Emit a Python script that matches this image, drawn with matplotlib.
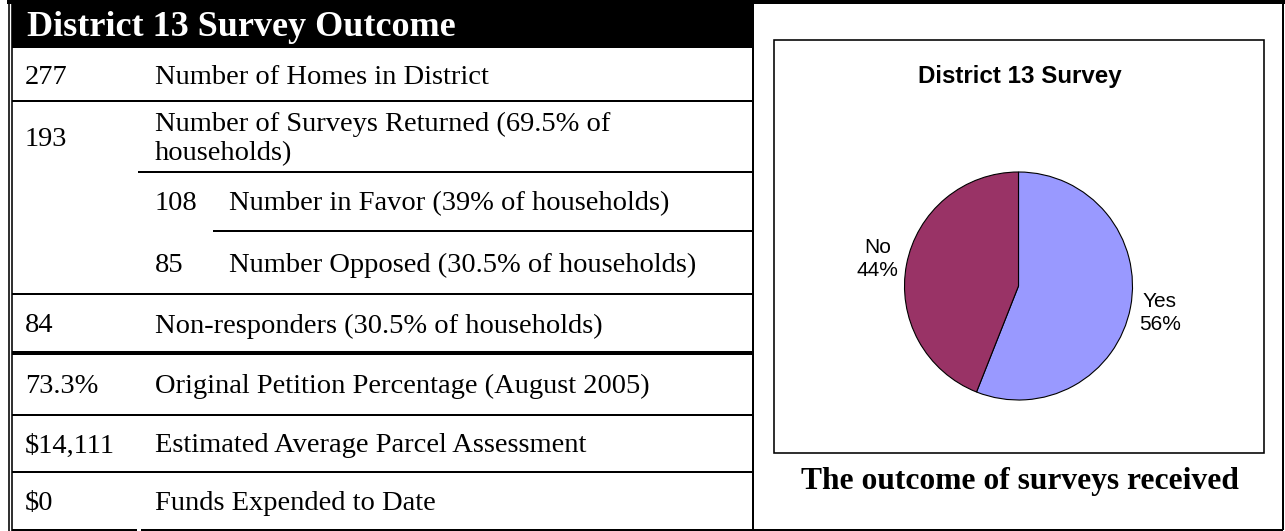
import matplotlib
matplotlib.use('Agg')
import matplotlib.pyplot as plt
from matplotlib.patches import Rectangle

# table data
title = 'District 13 Survey Outcome'
values = ['277', '193', '108', '85', '84', '73.3%', '$14,111', '$0']
labels = ['Number of Homes in District',
          'Number of Surveys Returned (69.5% of\nhouseholds)',
          'Number in Favor (39% of households)',
          'Number Opposed (30.5% of households)',
          'Non-responders (30.5% of households)',
          'Original Petition Percentage (August 2005)',
          'Estimated Average Parcel Assessment',
          'Funds Expended to Date']
sub_row = [False, False, True, True, False, False, False, False]

# pie data
pie_title = 'District 13 Survey'
answers = ['Yes', 'No']
shares = [56, 44]
pie_colors = ['#9999FF', '#993366']
caption = 'The outcome of surveys received'

W, H = 1285, 531
serif = 'Liberation Serif'
sans = 'Liberation Sans'

fig = plt.figure(figsize=(W / 100, H / 100), dpi=100)
ax = fig.add_axes([0, 0, 1, 1])
ax.set_xlim(0, W)
ax.set_ylim(H, 0)
ax.axis('off')

px = 0.72  # one pixel in points

# row geometry (pixels)
row_top = [48, 101, 172, 231, 294, 353, 415, 472]
row_bot = [101, 172, 231, 294, 353, 415, 472, 530]
x_left, x_div, x_right = 12, 753, 1283

# outer frame
ax.hlines(2, 7, W, color='black', lw=4 * px)
ax.vlines([8.5, 12], 0, H, color='black', lw=1.6 * px)
ax.vlines(x_div, 0, 530, color='black', lw=2 * px)
ax.vlines(x_right, 0, 530, color='black', lw=2 * px)
ax.hlines(530, 12, 137, color='black', lw=2 * px)
ax.hlines(530, 141, x_right, color='black', lw=2 * px)

# header
ax.add_patch(Rectangle((x_left, 4), x_div - x_left, 44, color='black', lw=0))
ax.text(27, 28, title, color='white', fontsize=26, fontweight='bold',
        family=serif, va='center', ha='left')

# row separators
ax.hlines(101, x_left, x_div, color='black', lw=2 * px)
ax.hlines(172, 138, x_div, color='black', lw=2 * px)
ax.hlines(231, 213, x_div, color='black', lw=2 * px)
ax.hlines(294, x_left, x_div, color='black', lw=2 * px)
ax.hlines(353, x_left, x_div, color='black', lw=4 * px)
ax.hlines(415, x_left, x_div, color='black', lw=2 * px)
ax.hlines(472, x_left, x_div, color='black', lw=2 * px)

for i, (v, lab) in enumerate(zip(values, labels)):
    xv, xl = (155, 229) if sub_row[i] else (25, 155)
    if '\n' in lab:
        ax.text(xv, 139, v, fontsize=20.5, family=serif, va='center', ha='left')
        ax.text(xl, 112, lab, fontsize=20.5, family=serif, va='top',
                ha='left', linespacing=1.22)
        continue
    yc = (row_top[i] + row_bot[i]) / 2 + 2.5
    ax.text(xv, yc, v, fontsize=20.5, family=serif, va='center', ha='left')
    ax.text(xl, yc, lab, fontsize=20.5, family=serif, va='center', ha='left')

# chart box
ax.add_patch(Rectangle((774, 40), 1264 - 774, 453 - 40, fill=False,
                       edgecolor='black', lw=1.6 * px))
ax.text(1020, 76, pie_title, fontsize=17.4, fontweight='bold', family=sans,
        ha='center', va='center')
ax.text(1020, 482, caption, fontsize=22.7, fontweight='bold', family=serif,
        ha='center', va='center')

# pie
cx, cy, r = 1018.5, 286, 114
pax = fig.add_axes([(cx - r) / W, (H - cy - r) / H, 2 * r / W, 2 * r / H])
pie_labels = [f'{a}\n{s}%' for a, s in zip(answers, shares)]
wedges, texts = pax.pie(shares, colors=pie_colors, startangle=90,
                        counterclock=False, labels=pie_labels,
                        labeldistance=1.26,
                        wedgeprops=dict(edgecolor='black', linewidth=0.8),
                        textprops=dict(fontsize=15, family=sans))
pax.set_xlim(-1, 1)
pax.set_ylim(-1, 1)
for t in texts:
    t.set_ha('center')
    t.set_va('center')
    t.set_multialignment('center')
    t.set_linespacing(1.3)

fig.savefig('out.png', dpi=100)
